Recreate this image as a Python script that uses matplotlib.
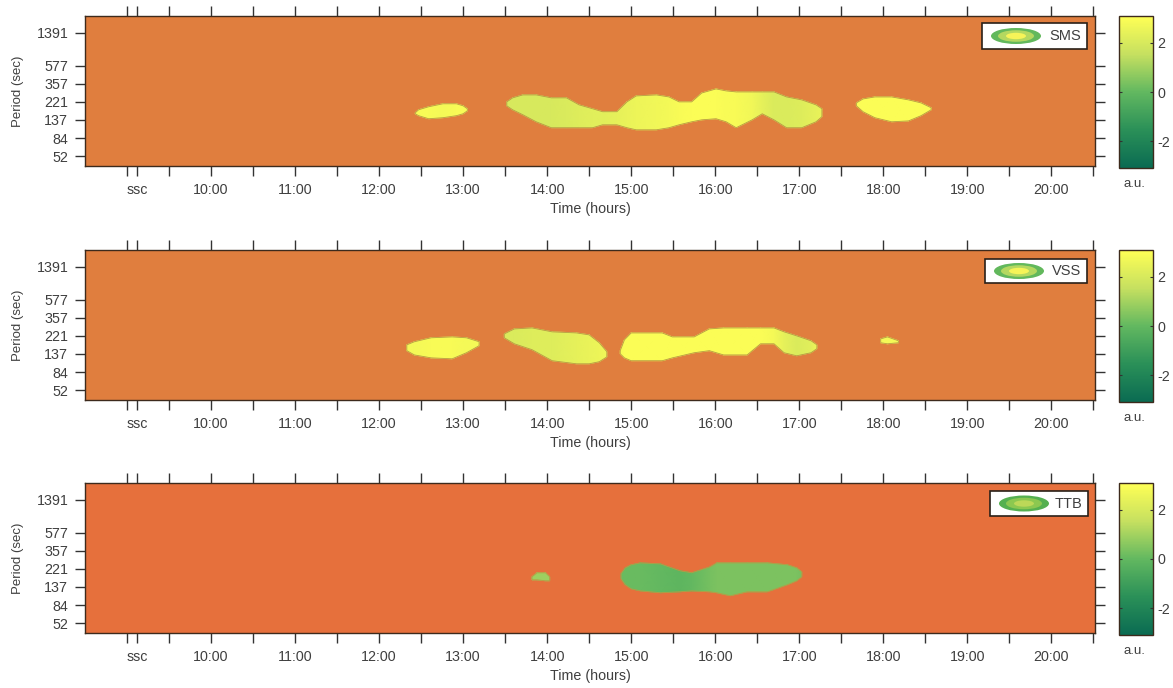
import numpy as np
import matplotlib
matplotlib.use('Agg')
import matplotlib.pyplot as plt
from matplotlib.colors import LinearSegmentedColormap, Normalize
from matplotlib.patches import Ellipse, Rectangle

plt.rcParams['font.family'] = ['Liberation Sans', 'DejaVu Sans']
plt.rcParams['axes.unicode_minus'] = False

W, H = 1173, 688
TEXT = '#3f3f3f'
SPINE = '#3d2a1c'

period_ticks = [52, 84, 137, 221, 357, 577, 1391]
hour_ticks = [10, 11, 12, 13, 14, 15, 16, 17, 18, 19, 20]
hour_labels = ['10:00', '11:00', '12:00', '13:00', '14:00', '15:00',
               '16:00', '17:00', '18:00', '19:00', '20:00']
half_ticks = [9, 9.5, 10.5, 11.5, 12.5, 13.5, 14.5, 15.5, 16.5, 17.5, 18.5, 19.5, 20.5]
ssc_time = 9.12

# SMS patches: time (h), upper and lower period (s), amplitude (a.u.)
sms_a_t = [12.43, 12.47, 12.59, 12.76, 12.92, 13.00, 13.05]
sms_a_hi = [165, 179, 194, 210, 210, 199, 184]
sms_a_lo = [161, 153, 141, 145, 153, 161, 174]
sms_a_v = [2.9, 2.9, 2.9, 2.8, 2.9, 2.9, 2.9]

sms_b_t = [13.52, 13.59, 13.71, 13.87, 14.05, 14.23, 14.38, 14.54, 14.66, 14.83, 14.95, 15.06, 15.30, 15.45,
           15.57, 15.72, 15.84, 16.01, 16.13, 16.25, 16.44, 16.56, 16.70, 16.85, 17.03, 17.20, 17.27]
sms_b_hi = [221, 246, 266, 266, 246, 246, 204, 184, 170, 170, 221, 259, 266, 252,
            221, 221, 280, 312, 296, 288, 288, 288, 288, 252, 233, 204, 184]
sms_b_lo = [199, 179, 157, 130, 111, 111, 111, 111, 120, 120, 111, 105, 105, 111,
            120, 130, 137, 141, 130, 111, 137, 161, 137, 111, 111, 130, 149]
sms_b_v = [2.0, 2.0, 2.0, 2.0, 2.0, 2.1, 2.2, 2.3, 2.3, 2.4, 2.5, 2.6, 2.7, 2.8,
           2.9, 3.0, 3.0, 3.0, 2.9, 2.9, 2.7, 2.4, 2.1, 2.1, 2.2, 2.4, 2.5]

sms_c_t = [17.68, 17.76, 17.90, 18.10, 18.30, 18.45, 18.57]
sms_c_hi = [215, 239, 252, 252, 233, 215, 189]
sms_c_lo = [199, 170, 145, 130, 133, 153, 179]
sms_c_v = [3.0, 3.0, 3.0, 3.0, 3.0, 3.0, 3.0]

# VSS patches
vss_a_t = [12.33, 12.42, 12.62, 12.87, 13.04, 13.19]
vss_a_hi = [174, 189, 210, 215, 210, 189]
vss_a_lo = [149, 133, 123, 120, 141, 170]
vss_a_v = [2.8, 2.8, 2.9, 2.9, 2.8, 2.8]

vss_b_t = [13.49, 13.61, 13.82, 14.06, 14.35, 14.50, 14.62, 14.71]
vss_b_hi = [233, 266, 273, 246, 239, 227, 184, 145]
vss_b_lo = [210, 179, 153, 114, 105, 105, 111, 126]
vss_b_v = [2.1, 2.1, 2.2, 2.2, 2.4, 2.5, 2.6, 2.7]

vss_c_t = [14.87, 14.92, 15.00, 15.37, 15.49, 15.75, 15.93, 16.10,
           16.38, 16.54, 16.70, 16.82, 16.97, 17.14, 17.21]
vss_c_hi = [149, 199, 239, 239, 215, 215, 266, 273, 273, 273, 273, 246, 221, 194, 174]
vss_c_lo = [137, 123, 114, 114, 123, 141, 149, 133, 133, 179, 179, 141, 130, 141, 157]
vss_c_v = [2.9, 3.0, 3.0, 3.0, 3.0, 3.0, 3.0, 3.0, 3.0, 3.0, 2.8, 2.4, 2.1, 2.3, 2.6]

vss_d_t = [17.97, 18.05, 18.18]
vss_d_hi = [204, 215, 194]
vss_d_lo = [184, 179, 184]
vss_d_v = [2.8, 2.8, 2.8]

# TTB patches
ttb_a_t = [13.82, 13.88, 13.98, 14.03]
ttb_a_hi = [179, 199, 199, 179]
ttb_a_lo = [165, 165, 161, 161]
ttb_a_v = [0.9, 0.9, 0.9, 0.9]

ttb_b_t = [14.88, 14.93, 15.00, 15.11, 15.35, 15.58, 15.72, 15.94,
           16.02, 16.18, 16.38, 16.62, 16.86, 16.97, 17.03]
ttb_b_hi = [194, 227, 246, 259, 252, 210, 199, 233, 259, 259, 259, 259, 246, 227, 204]
ttb_b_lo = [170, 145, 130, 123, 117, 120, 123, 120, 117, 108, 120, 120, 145, 161, 179]
ttb_b_v = [0.1, 0.1, 0.1, 0.1, 0.0, -0.1, 0.0, 0.3, 0.4, 0.4, 0.4, 0.4, 0.4, 0.4, 0.3]

panels = [
    {'name': 'SMS', 'top': 16, 'bg': '#e07e3e', 'box': (982, 23, 1087, 49), 'icon': 1016,
     'icon_cols': ['#62b85c', '#b4d860', '#f6f458'],
     'patches': [(sms_a_t, sms_a_hi, sms_a_lo, sms_a_v),
                 (sms_b_t, sms_b_hi, sms_b_lo, sms_b_v),
                 (sms_c_t, sms_c_hi, sms_c_lo, sms_c_v)]},
    {'name': 'VSS', 'top': 250, 'bg': '#e07e3e', 'box': (985, 259, 1087, 283), 'icon': 1019,
     'icon_cols': ['#62b85c', '#b4d860', '#f6f458'],
     'patches': [(vss_a_t, vss_a_hi, vss_a_lo, vss_a_v),
                 (vss_b_t, vss_b_hi, vss_b_lo, vss_b_v),
                 (vss_c_t, vss_c_hi, vss_c_lo, vss_c_v),
                 (vss_d_t, vss_d_hi, vss_d_lo, vss_d_v)]},
    {'name': 'TTB', 'top': 483, 'bg': '#e6703c', 'box': (990, 491, 1088, 516), 'icon': 1024,
     'icon_cols': ['#55b050', '#8cc850', '#bcd858'],
     'patches': [(ttb_a_t, ttb_a_hi, ttb_a_lo, ttb_a_v),
                 (ttb_b_t, ttb_b_hi, ttb_b_lo, ttb_b_v)]},
]

cmap = LinearSegmentedColormap.from_list('wave', ['#0a6b52', '#2a9058', '#62b860', '#c6e060', '#ffff55'])
norm = Normalize(-3.1, 3.1)


def px_rect(x0, y0, x1, y1):
    # pixel box with top-left origin to figure fractions
    return [x0 / W, 1 - y1 / H, (x1 - x0) / W, (y1 - y0) / H]


fig = plt.figure(figsize=(W / 100, H / 100), dpi=100)

for p in panels:
    top = p['top']
    ax = fig.add_axes(px_rect(85, top, 1095, top + 150))
    ax.set_facecolor(p['bg'])
    ax.set_yscale('log')
    ax.set_xlim(8.5, 20.52)
    ax.set_ylim(40, 2180)

    mesh = None
    for t, hi, lo, v in p['patches']:
        xx = np.column_stack([t, t])
        yy = np.column_stack([lo, hi])
        cc = np.column_stack([v, v])
        mesh = ax.pcolormesh(xx, yy, cc, shading='gouraud', cmap=cmap, norm=norm)
        ax.fill_between(t, lo, hi, fc='none', ec='#b89a44', lw=0.6)

    ax.set_yticks(period_ticks)
    ax.set_yticklabels([str(v) for v in period_ticks])
    ax.minorticks_off()
    ax.set_xticks(hour_ticks + half_ticks + [ssc_time])
    ax.set_xticklabels(hour_labels + [''] * len(half_ticks) + ['ssc'])
    ax.tick_params(axis='both', which='major', direction='out', length=7, width=1,
                   color='#333333', labelcolor=TEXT, labelsize=10.3,
                   top=True, right=True, left=True, bottom=True)
    ax.tick_params(axis='x', pad=5)
    ax.tick_params(axis='y', pad=5)
    ax.set_xlabel('Time (hours)', fontsize=10.3, color=TEXT, labelpad=4)
    ax.set_ylabel('Period (sec)', fontsize=9.5, color=TEXT, labelpad=9)
    for s in ax.spines.values():
        s.set_color(SPINE)
        s.set_linewidth(1)

    # legend box with contour icon, in pixel positions
    x0, y0, x1, y1 = p['box']
    fig.add_artist(Rectangle((x0 / W, 1 - y1 / H), (x1 - x0) / W, (y1 - y0) / H,
                             transform=fig.transFigure, fc='white', ec='#2a2018', lw=1.2, zorder=5))
    cy = (y0 + y1) / 2
    for frac, col in zip([1.0, 0.72, 0.4], p['icon_cols']):
        fig.add_artist(Ellipse((p['icon'] / W, 1 - cy / H), 50 * frac / W, 16 * frac / H,
                               transform=fig.transFigure, fc=col, ec='none', zorder=6))
    fig.text((x1 - 6) / W, 1 - cy / H, p['name'], ha='right', va='center',
             fontsize=10.5, color=TEXT, zorder=7)

    # colour bar
    cax = fig.add_axes(px_rect(1119, top, 1153, top + 152))
    cb = fig.colorbar(mesh, cax=cax, ticks=[-2, 0, 2])
    cb.ax.tick_params(length=2, width=0.8, direction='in', pad=3, labelsize=10.3,
                      labelcolor=TEXT, color='#333333', left=True)
    cb.outline.set_edgecolor(SPINE)
    cb.outline.set_linewidth(1)
    fig.text(1134 / W, 1 - (top + 168) / H, 'a.u.', ha='center', va='center',
             fontsize=9.5, color=TEXT)

fig.savefig('out.png', dpi=100)
